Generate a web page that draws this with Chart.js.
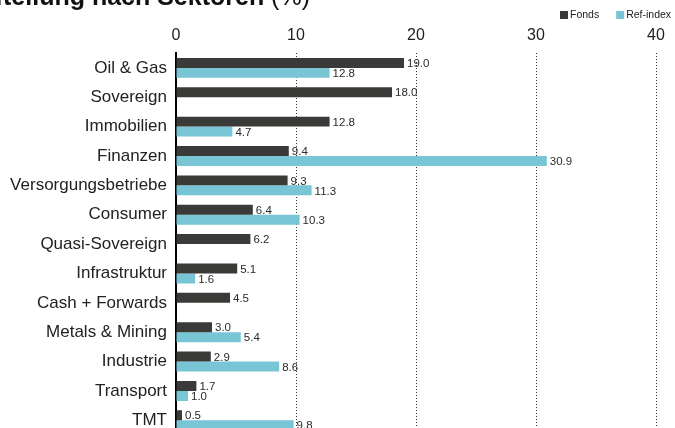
<!DOCTYPE html>
<html>
<head>
<meta charset="utf-8">
<script src="https://cdn.jsdelivr.net/npm/chart.js@4/dist/chart.umd.min.js"></script>
<style>
  html, body { margin: 0; padding: 0; background: #fff; overflow: hidden; }
  #wrap { width: 675px; height: 436px; position: relative; }
  #c { display: block; width: 675px; height: 436px; }
</style>
</head>
<body>
<div id="wrap"><canvas id="c" width="675" height="436"></canvas></div>
<script>
const titleBold = "Aufteilung nach Sektoren";
const titleUnit = " (%)";
const categories = ["Oil & Gas", "Sovereign", "Immobilien", "Finanzen", "Versorgungsbetriebe", "Consumer", "Quasi-Sovereign", "Infrastruktur", "Cash + Forwards", "Metals & Mining", "Industrie", "Transport", "TMT"];
const fondsValues = [19.0, 18.0, 12.8, 9.4, 9.3, 6.4, 6.2, 5.1, 4.5, 3.0, 2.9, 1.7, 0.5];
const refValues = [12.8, null, 4.7, 30.9, 11.3, 10.3, null, 1.6, null, 5.4, 8.6, 1.0, 9.8];
const seriesNames = ["Fonds", "Ref-index"];
const xTickMin = 0, xTickMax = 40, xTickStep = 10;

const FONT = "'Liberation Sans', Arial, sans-serif";
const colors = ["#3a3a38", "#78c5d6"];

const bgPlugin = {
  id: 'bg',
  beforeDraw(chart) {
    const ctx = chart.ctx;
    ctx.save();
    ctx.fillStyle = '#fff';
    ctx.fillRect(0, 0, chart.width, chart.height);
    ctx.restore();
  }
};

const labelPlugin = {
  id: 'valueLabels',
  afterDatasetsDraw(chart) {
    const ctx = chart.ctx;
    ctx.save();
    ctx.font = "11.5px " + FONT;
    ctx.fillStyle = '#2a2a2a';
    ctx.textAlign = 'left';
    ctx.textBaseline = 'middle';
    chart.data.datasets.forEach((ds, di) => {
      const meta = chart.getDatasetMeta(di);
      meta.data.forEach((el, i) => {
        const v = ds.data[i];
        if (v === null || v === undefined) return;
        ctx.fillText(v.toFixed(1), el.x + 3, el.y + 1);
      });
    });
    ctx.restore();
  }
};

const headerPlugin = {
  id: 'header',
  afterDraw(chart) {
    const ctx = chart.ctx;
    ctx.save();
    ctx.textBaseline = 'alphabetic';
    ctx.textAlign = 'left';
    ctx.fillStyle = '#111';
    ctx.font = "bold 25px " + FONT;
    const bw = ctx.measureText(titleBold).width;
    ctx.font = "25px " + FONT;
    const uw = ctx.measureText(titleUnit).width;
    const x0 = 310 - bw - uw;
    ctx.font = "bold 25px " + FONT;
    ctx.fillText(titleBold, x0, 5);
    ctx.font = "25px " + FONT;
    ctx.fillText(titleUnit, x0 + bw, 5);
    // legend
    ctx.font = "10.5px " + FONT;
    ctx.textBaseline = 'middle';
    let x = 560;
    const y = 15;
    chart.data.datasets.forEach((ds) => {
      ctx.fillStyle = ds.backgroundColor;
      ctx.fillRect(x, y - 4, 8, 8);
      ctx.fillStyle = '#222';
      ctx.fillText(ds.label, x + 10, y);
      x += 10 + ctx.measureText(ds.label).width + 17;
    });
    ctx.restore();
  }
};

new Chart(document.getElementById('c'), {
  type: 'bar',
  data: {
    labels: categories,
    datasets: [
      { label: seriesNames[0], data: fondsValues, backgroundColor: colors[0], categoryPercentage: 0.68, barPercentage: 1.0 },
      { label: seriesNames[1], data: refValues, backgroundColor: colors[1], categoryPercentage: 0.68, barPercentage: 1.0 }
    ]
  },
  options: {
    indexAxis: 'y',
    responsive: false,
    animation: false,
    devicePixelRatio: 1,
    layout: { padding: { left: 0, right: 19, top: 18, bottom: 1 } },
    plugins: {
      legend: { display: false },
      title: { display: false },
      tooltip: { enabled: false }
    },
    scales: {
      x: {
        position: 'top',
        min: xTickMin,
        max: xTickMax,
        ticks: { stepSize: xTickStep, color: '#222', font: { size: 16, family: FONT }, padding: 8 },
        grid: { color: '#333', lineWidth: 1, drawTicks: false },
        border: { display: false, dash: [1, 2] }
      },
      y: {
        ticks: { color: '#222', font: { size: 17, family: FONT }, padding: 9 },
        grid: { display: false, drawTicks: false, tickLength: 0 },
        border: { display: true, color: '#000', width: 2 },
        afterFit(scale) { scale.width = 176; scale.paddingTop = 0; scale.paddingBottom = 0; }
      }
    }
  },
  plugins: [bgPlugin, labelPlugin, headerPlugin]
});
</script>
</body>
</html>
